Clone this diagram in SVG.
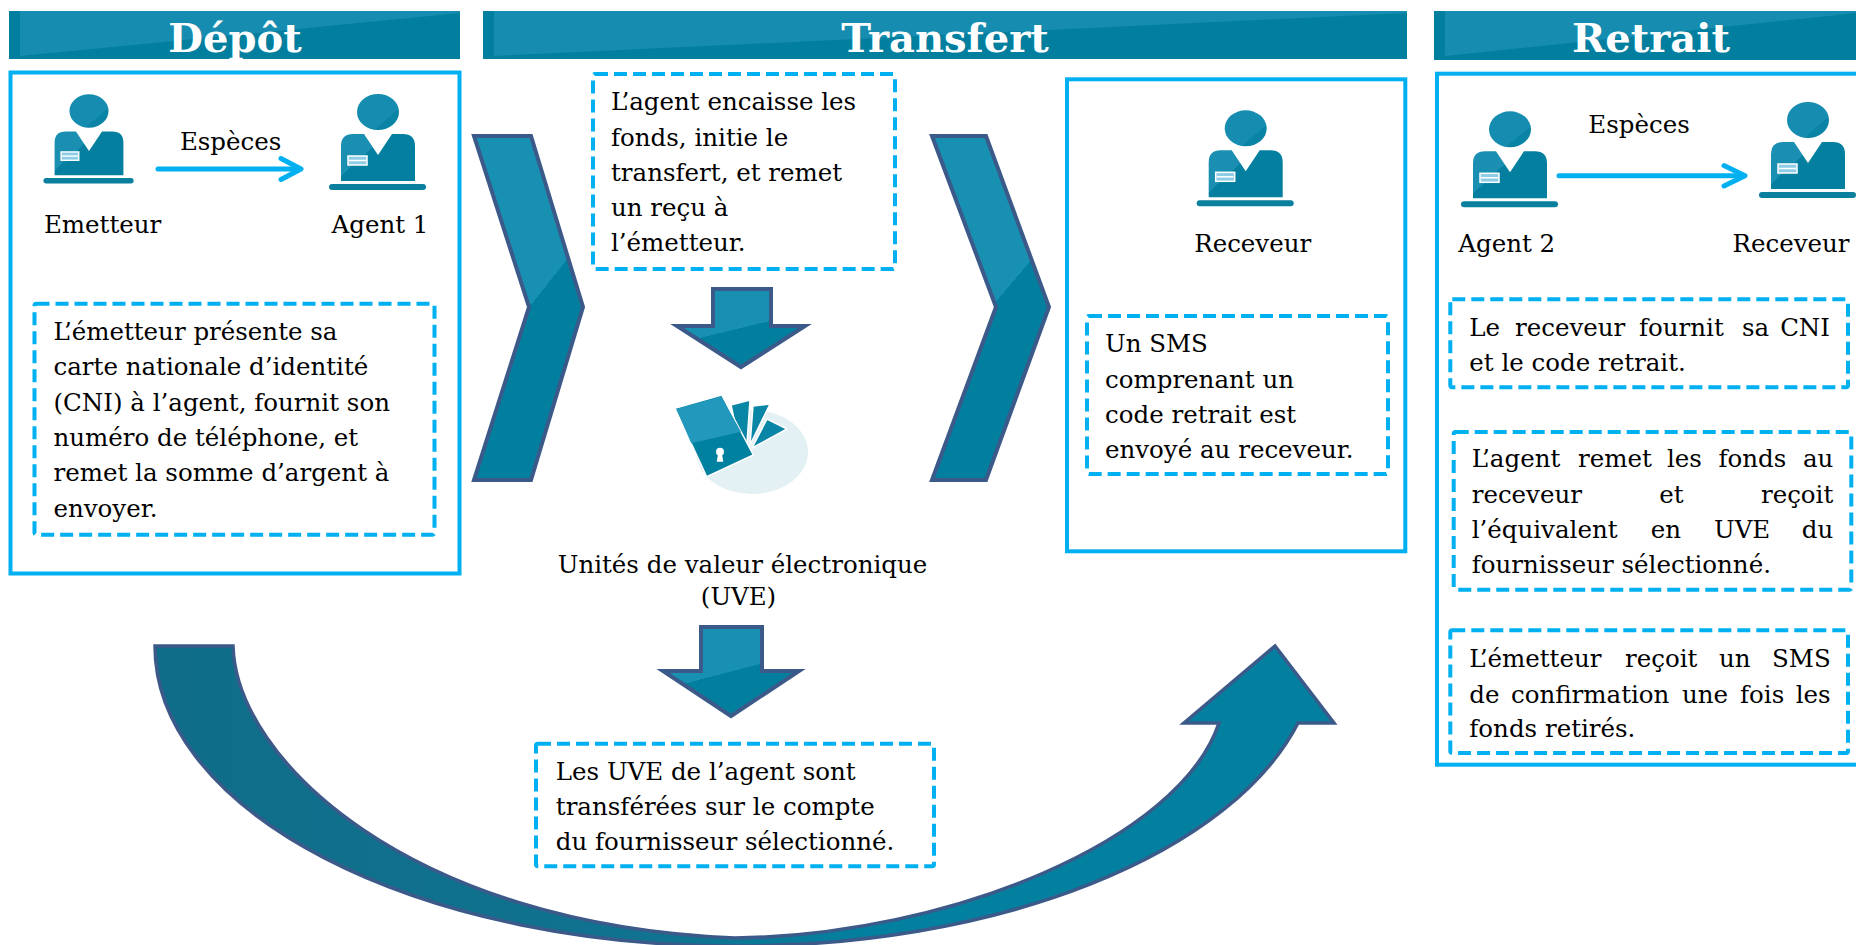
<svg xmlns="http://www.w3.org/2000/svg" xmlns:xlink="http://www.w3.org/1999/xlink" width="1856" height="945" viewBox="0 0 1856 945">
<style>
.hdr{fill:#027f9f}
.hdrl{fill:#168db0}
.htxt{font-family:"DejaVu Serif","Liberation Serif",serif;font-weight:bold;font-size:40px;fill:#ffffff;text-anchor:middle}
.t{font-family:"DejaVu Serif","Liberation Serif",serif;font-size:24.5px;fill:#000000}
.c{text-anchor:middle}
.e{text-anchor:end}
.solid{fill:#ffffff;stroke:#00b0f0;stroke-width:4}
.dash{fill:none;stroke:#00b0f0;stroke-width:4;stroke-dasharray:13 6}
.flow{fill:none;stroke:#00b0f0;stroke-width:5;stroke-linecap:round;stroke-linejoin:round}
.chev{fill:url(#chevG);stroke:#3c5a89;stroke-width:4;stroke-linejoin:miter}
</style>
<defs>
<linearGradient id="chevG" x1="0.3" y1="0" x2="0.7" y2="1">
<stop offset="0" stop-color="#1790b2"/><stop offset="0.5" stop-color="#1790b2"/>
<stop offset="0.5" stop-color="#027f9f"/><stop offset="1" stop-color="#027f9f"/>
</linearGradient>
<linearGradient id="bodyG" x1="0" y1="0" x2="1" y2="0.7">
<stop offset="0" stop-color="#1a8fb1"/><stop offset="0.42" stop-color="#1a8fb1"/>
<stop offset="0.42" stop-color="#047f9f"/><stop offset="1" stop-color="#047f9f"/>
</linearGradient>
<linearGradient id="headG" x1="0" y1="0" x2="1" y2="1">
<stop offset="0" stop-color="#168db0"/><stop offset="0.7" stop-color="#168db0"/>
<stop offset="0.7" stop-color="#0a84a5"/><stop offset="1" stop-color="#0a84a5"/>
</linearGradient>
<linearGradient id="curveG" x1="0" y1="0" x2="1" y2="0">
<stop offset="0" stop-color="#0f6d89"/><stop offset="0.45" stop-color="#107391"/>
<stop offset="0.6" stop-color="#03809f"/><stop offset="1" stop-color="#03809f"/>
</linearGradient>
<g id="person">
<ellipse cx="0" cy="0" rx="21" ry="18" fill="url(#headG)"/>
<path d="M-37,34 Q-37,22 -25,22 L-14,22 L0,43 L14,22 L25,22 Q37,22 37,34 L37,69 L-37,69 Z" fill="url(#bodyG)"/>
<rect x="-30" y="44" width="19" height="9" fill="#8fcde6" stroke="#ffffff" stroke-width="1.5"/>
<line x1="-29" y1="48.5" x2="-12" y2="48.5" stroke="#ffffff" stroke-width="1.5"/>
<rect x="-49" y="72" width="97" height="6" rx="3" fill="#0a7f9e"/>
</g>
</defs>

<rect width="1856" height="945" fill="#ffffff"/>

<g id="headers">
<g id="hdr-depot">
<rect class="hdr" x="9" y="11" width="451" height="48"/>
<polygon class="hdrl" points="20,11 460,11 460,13 20,56"/>
<text class="htxt" x="235" y="51.5">Dépôt</text>
</g>
<g id="hdr-transfert">
<rect class="hdr" x="483" y="11" width="924" height="48"/>
<polygon class="hdrl" points="494,11 1407,11 1407,13 494,56"/>
<text class="htxt" x="945" y="51.5">Transfert</text>
</g>
<g id="hdr-retrait">
<rect class="hdr" x="1434" y="11" width="430" height="49"/>
<polygon class="hdrl" points="1445,11 1856,11 1856,13 1445,56"/>
<text class="htxt" x="1651" y="51.5">Retrait</text>
</g>
</g>

<g id="panel-depot">
<rect class="solid" x="10.5" y="72.5" width="449" height="501"/>
</g>
<g id="panel-receveur">
<rect class="solid" x="1067" y="79.3" width="338.3" height="472"/>
</g>
<g id="panel-retrait">
<rect class="solid" x="1437" y="73.7" width="440" height="691"/>
</g>

<g id="connectors">
<g id="chevron-1"><polygon class="chev" points="474,136 531,136 583,307 531,480 474,480 529,307"/></g>
<g id="chevron-2"><polygon class="chev" points="932,136 986,136 1049,307 986,480 932,480 996,307"/></g>
<g id="cash-depot">
<line class="flow" x1="158" y1="169" x2="299" y2="169"/>
<polyline class="flow" points="281,158.5 301,169 281,179.5"/>
</g>
<g id="cash-retrait">
<line class="flow" x1="1559" y1="175.7" x2="1743" y2="175.7"/>
<polyline class="flow" points="1724,165.5 1745,175.7 1724,186"/>
</g>
<g id="down-1"><path class="chev" d="M713,289 L771,289 L771,326 L805,326 L741,367 L677,326 L713,326 Z"/></g>
<g id="down-2"><path class="chev" d="M701,627 L762,627 L762,671 L799,671 L731,716 L663,671 L701,671 Z"/></g>
<g id="return-arrow">
<path d="M155,646 L233,646 C236,760 410,925 735,938 C950,935 1180,840 1219,723 L1184,723 L1275,646 L1334,723 L1298,723 A580,300 0 0 1 735,946 A580,300 0 0 1 155,646 Z" fill="url(#curveG)" stroke="#3c5a89" stroke-width="3.5" stroke-linejoin="miter"/>
</g>
</g>

<g id="node-emetteur">
<use href="#person" xlink:href="#person" transform="translate(89,111) scale(0.93)"/>
<text class="t c" x="102.6" y="233">Emetteur</text>
</g>
<g id="label-especes-1"><text class="t c" x="230.6" y="150">Espèces</text></g>
<g id="node-agent1">
<use href="#person" xlink:href="#person" transform="translate(378,112)"/>
<text class="t c" x="380" y="233">Agent 1</text>
</g>
<g id="note-depot">
<rect class="dash" x="34.5" y="303.7" width="400" height="231" rx="2"/>
<text class="t" x="53.5" y="340">L’émetteur présente sa</text>
<text class="t" x="53.5" y="375.3">carte nationale d’identité</text>
<text class="t" x="53.5" y="410.6">(CNI) à l’agent, fournit son</text>
<text class="t" x="53.5" y="445.9">numéro de téléphone, et</text>
<text class="t" x="53.5" y="481.2">remet la somme d’argent à</text>
<text class="t" x="53.5" y="516.5">envoyer.</text>
</g>

<g id="note-transfert-1">
<rect class="dash" x="593" y="74" width="302" height="195" rx="2"/>
<text class="t" x="611" y="110">L’agent encaisse les</text>
<text class="t" x="611" y="145.7">fonds, initie le</text>
<text class="t" x="611" y="181">transfert, et remet</text>
<text class="t" x="611" y="216">un reçu à</text>
<text class="t" x="611" y="250.7">l’émetteur.</text>
</g>

<g id="node-uve">
<ellipse cx="752" cy="452" rx="56" ry="42" fill="#e3f0f4"/>
<polygon points="731,405 750,400 747,443 740,446" fill="#0985a5" stroke="#ffffff" stroke-width="1.5" stroke-linejoin="round"/>
<polygon points="753,406 770,404 750,445" fill="#0985a5" stroke="#ffffff" stroke-width="1.5" stroke-linejoin="round"/>
<polygon points="767,419 787,429 752,448" fill="#0985a5" stroke="#ffffff" stroke-width="1.5" stroke-linejoin="round"/>
<polygon points="675,408.3 721.7,395 753.3,455 706.7,476.7" fill="#0081a0" stroke="#ffffff" stroke-width="1.5" stroke-linejoin="round"/>
<polygon points="676.5,409 721,396.5 741,431.7 691.2,443.3" fill="#2298bd"/>
<circle cx="720" cy="451.7" r="4" fill="#ffffff"/>
<polygon points="718.3,453 721.7,453 723.3,461.7 716.7,461.7" fill="#ffffff"/>
<text class="t c" x="742.5" y="573.3">Unités de valeur électronique</text>
<text class="t c" x="738.5" y="604.5">(UVE)</text>
</g>

<g id="note-transfert-2">
<rect class="dash" x="536" y="743.7" width="398" height="122.6" rx="2"/>
<text class="t" x="555.8" y="780">Les UVE de l’agent sont</text>
<text class="t" x="555.8" y="815">transférées sur le compte</text>
<text class="t" x="555.8" y="850">du fournisseur sélectionné.</text>
</g>

<g id="node-receveur-1">
<use href="#person" xlink:href="#person" transform="translate(1245.7,128.3)"/>
<text class="t c" x="1252.7" y="251.7">Receveur</text>
</g>
<g id="note-sms">
<rect class="dash" x="1087" y="316" width="301" height="158" rx="2"/>
<text class="t" x="1105" y="351.7">Un SMS</text>
<text class="t" x="1105" y="388.3">comprenant un</text>
<text class="t" x="1105" y="423.3">code retrait est</text>
<text class="t" x="1105" y="458.3">envoyé au receveur.</text>
</g>

<g id="node-agent2">
<use href="#person" xlink:href="#person" transform="translate(1510,129.3)"/>
<text class="t c" x="1506.7" y="251.7">Agent 2</text>
</g>
<g id="label-especes-2"><text class="t c" x="1639" y="133.3">Espèces</text></g>
<g id="node-receveur-2">
<use href="#person" xlink:href="#person" transform="translate(1808,120)"/>
<text class="t c" x="1791" y="251.7">Receveur</text>
</g>

<g id="note-retrait-1">
<rect class="dash" x="1450.3" y="299.3" width="397.7" height="88" rx="2"/>
<text class="t" y="336"><tspan x="1469.3">Le</tspan><tspan x="1515">receveur</tspan><tspan x="1639">fournit</tspan><tspan x="1742">sa</tspan></text>
<text class="t e" x="1830" y="336">CNI</text>
<text class="t" x="1469.3" y="370.7">et le code retrait.</text>
</g>
<g id="note-retrait-2">
<rect class="dash" x="1453.7" y="432" width="397.6" height="157.7" rx="2"/>
<text class="t" y="467.3"><tspan x="1471.7">L’agent</tspan><tspan x="1578">remet</tspan><tspan x="1667">les</tspan><tspan x="1718.5">fonds</tspan></text>
<text class="t e" x="1833.3" y="467.3">au</text>
<text class="t" y="502.7"><tspan x="1471.7">receveur</tspan><tspan x="1659.3">et</tspan></text>
<text class="t e" x="1833.3" y="502.7">reçoit</text>
<text class="t" y="538.3"><tspan x="1471.7">l’équivalent</tspan><tspan x="1650.7">en</tspan><tspan x="1714">UVE</tspan></text>
<text class="t e" x="1833.3" y="538.3">du</text>
<text class="t" x="1471.7" y="573.3">fournisseur sélectionné.</text>
</g>
<g id="note-retrait-3">
<rect class="dash" x="1450.3" y="630.3" width="397.7" height="122.7" rx="2"/>
<text class="t" y="667.3"><tspan x="1469.3">L’émetteur</tspan><tspan x="1625">reçoit</tspan><tspan x="1719">un</tspan></text>
<text class="t e" x="1830.7" y="667.3">SMS</text>
<text class="t" y="702.7"><tspan x="1469.3">de</tspan><tspan x="1511">confirmation</tspan><tspan x="1682">une</tspan><tspan x="1740">fois</tspan></text>
<text class="t e" x="1830.7" y="702.7">les</text>
<text class="t" x="1469.3" y="736.7">fonds retirés.</text>
</g>
</svg>
